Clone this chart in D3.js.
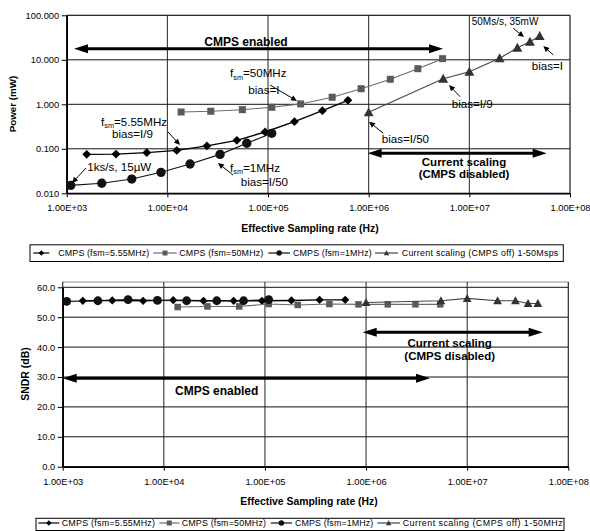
<!DOCTYPE html>
<html><head><meta charset="utf-8">
<script src="https://cdn.jsdelivr.net/npm/d3@7"></script>
<style>
body{margin:0;background:#fff;}
svg{display:block;font-family:"Liberation Sans",Arial,sans-serif;}
</style></head>
<body><svg id="c" width="590" height="531"></svg>
<script>
// ---------- data ----------
const xTickVals = [1e3, 1e4, 1e5, 1e6, 1e7, 1e8];
const xTickLabels = ["1.00E+03","1.00E+04","1.00E+05","1.00E+06","1.00E+07","1.00E+08"];
const pTickVals = [0.01, 0.1, 1, 10, 100];
const pTickLabels = ["0.010","0.100","1.000","10.000","100.000"];
const sTickVals = [0, 10, 20, 30, 40, 50, 60];
const sTickLabels = ["0.0","10.0","20.0","30.0","40.0","50.0","60.0"];

// CMPS fsm=5.55MHz
const x555 = [1580, 3090, 6240, 12400, 24700, 49000, 93500, 183000, 347000, 622000];
const p555 = [0.075, 0.076, 0.082, 0.092, 0.116, 0.155, 0.239, 0.407, 0.718, 1.23];
const s555 = [55.5, 55.6, 55.5, 55.7, 55.5, 55.5, 55.5, 55.6, 55.8, 55.8];
// CMPS fsm=50MHz
const x50 = [13700, 27000, 55600, 109000, 211000, 434000, 842000, 1640000, 3080000, 5420000];
const p50 = [0.671, 0.697, 0.757, 0.857, 1.02, 1.44, 2.24, 3.65, 6.31, 10.6];
const s50 = [53.4, 53.6, 53.6, 54.4, 54.1, 54.4, 54.3, 54.3, 54.3, 54.3];
// CMPS fsm=1MHz
const x1 = [1096, 2230, 4430, 8650, 16800, 33400, 61500, 109000];
const p1 = [0.0151, 0.0168, 0.0209, 0.0296, 0.0455, 0.075, 0.133, 0.223];
const s1 = [55.3, 55.5, 55.9, 55.6, 55.5, 55.5, 55.5, 55.9];
// Current scaling (CMPS off)
const xCS = [1e6, 5.5e6, 1e7, 2e7, 3e7, 4e7, 5e7];
const pCS = [0.66, 3.76, 5.4, 10.8, 18.7, 25.5, 34.3];
const sCS = [54.9, 55.5, 56.3, 55.5, 55.5, 54.6, 54.6];

const legendTop = ["CMPS (fsm=5.55MHz)","CMPS (fsm=50MHz)","CMPS (fsm=1MHz)","Current scaling (CMPS off) 1-50Msps"];
const legendBot = ["CMPS (fsm=5.55MHz)","CMPS (fsm=50MHz)","CMPS (fsm=1MHz)","Current scaling (CMPS off) 1-50MHz"];

// ---------- styles ----------
const seriesStyle = [
  {shape:"diamond", fill:"#000", line:"#000", lw:1.4},
  {shape:"square", fill:"#5a5a5a", line:"#6a6a6a", lw:1.1},
  {shape:"circle", fill:"#111", line:"#111", lw:1.1},
  {shape:"triangle", fill:"#333", line:"#444", lw:1.1}
];

const svg = d3.select("#c");
const FONT = "'Liberation Sans',Arial,sans-serif";

function drawMarker(g, shape, cx, cy, s, fill) {
  if (shape === "circle") {
    g.append("circle").attr("cx", cx).attr("cy", cy).attr("r", s*0.55).attr("fill", fill);
  } else if (shape === "square") {
    g.append("rect").attr("x", cx - s/2).attr("y", cy - s/2).attr("width", s).attr("height", s).attr("fill", fill);
  } else if (shape === "diamond") {
    const h = s*0.55;
    g.append("path").attr("d", `M${cx},${cy-h}L${cx+h},${cy}L${cx},${cy+h}L${cx-h},${cy}Z`).attr("fill", fill);
  } else {
    const h = s*0.55;
    g.append("path").attr("d", `M${cx},${cy-h}L${cx+h},${cy+h*0.8}L${cx-h},${cy+h*0.8}Z`).attr("fill", fill);
  }
}

function arrowHead(g, x, y, ang, len, half, color) {
  const c = Math.cos(ang), s = Math.sin(ang);
  const bx = x - c*len, by = y - s*len;
  g.append("path")
    .attr("d", `M${x},${y}L${bx - s*half},${by + c*half}L${bx + s*half},${by - c*half}Z`)
    .attr("fill", color);
}
function smallArrow(g, x1, y1, x2, y2) {
  const ang = Math.atan2(y2-y1, x2-x1);
  g.append("line").attr("x1", x1).attr("y1", y1)
    .attr("x2", x2 - Math.cos(ang)*4).attr("y2", y2 - Math.sin(ang)*4)
    .attr("stroke", "#000").attr("stroke-width", 1);
  arrowHead(g, x2, y2, ang, 6, 2.8, "#000");
}
function bigArrow(g, x1, x2, y) {
  g.append("line").attr("x1", x1 + 10).attr("x2", x2 - 10).attr("y1", y).attr("y2", y)
    .attr("stroke", "#000").attr("stroke-width", 3);
  arrowHead(g, x1, y, Math.PI, 14, 4.5, "#000");
  arrowHead(g, x2, y, 0, 14, 4.5, "#000");
}
function subLabel(g, x, y, pre, sub, post) {
  const t = g.append("text").attr("x", x).attr("y", y).attr("font-size", 11.6).attr("font-family", FONT);
  t.append("tspan").text(pre);
  t.append("tspan").attr("font-size", 7.3).attr("dy", 2.3).text(sub);
  t.append("tspan").attr("dy", -2.3).text(post);
}
function label(g, x, y, txt, size, weight, anchor) {
  g.append("text").attr("x", x).attr("y", y).attr("font-size", size)
    .attr("font-weight", weight || "normal").attr("text-anchor", anchor || "start")
    .attr("font-family", FONT).text(txt);
}

function drawChart(cfg) {
  const g = svg.append("g");
  const x = d3.scaleLog().domain([1e3, 1e8]).range([cfg.x0, cfg.x1]);
  const y = cfg.y;
  g.append("rect").attr("x", cfg.x0).attr("y", cfg.top).attr("width", cfg.x1 - cfg.x0)
    .attr("height", cfg.y0 - cfg.top).attr("fill", "none").attr("stroke", "#8a8a8a").attr("stroke-width", 1);
  g.selectAll(".hg").data(cfg.yVals).enter().append("line")
    .attr("x1", cfg.x0).attr("x2", cfg.x1).attr("y1", d => y(d)).attr("y2", d => y(d))
    .attr("stroke", "#111").attr("stroke-width", 1);
  g.selectAll(".vg").data(xTickVals).enter().append("line")
    .attr("x1", d => x(d)).attr("x2", d => x(d)).attr("y1", cfg.top).attr("y2", cfg.y0)
    .attr("stroke", "#222").attr("stroke-width", 1);
  const ax = g.append("g").attr("transform", `translate(0,${cfg.y0})`)
    .call(d3.axisBottom(x).tickValues(xTickVals).tickFormat((d,i) => xTickLabels[i]).tickSize(4).tickSizeOuter(0).tickPadding(cfg.xPad));
  const ay = g.append("g").attr("transform", `translate(${cfg.x0},0)`)
    .call(d3.axisLeft(y).tickValues(cfg.yVals).tickFormat((d,i) => cfg.yLabels[i]).tickSize(5).tickSizeOuter(0).tickPadding(2.5));
  [ax, ay].forEach(a => {
    a.select(".domain").attr("stroke", "#000").attr("stroke-width", 1.6);
    a.selectAll(".tick line").attr("stroke", "#000");
    a.selectAll("text").attr("font-size", 9.3).attr("font-family", FONT).attr("fill", "#000");
  });
  label(g, cfg.xTitleX, cfg.xTitleY, "Effective Sampling rate (Hz)", 10.4, "bold", "middle");
  g.append("text").attr("transform", `translate(${cfg.yTitleX},${cfg.yTitleY}) rotate(-90)`)
    .attr("text-anchor", "middle").attr("font-size", cfg.yTitleSize).attr("font-weight", "bold")
    .attr("font-family", FONT).text(cfg.yTitle);
  cfg.series.forEach((s, i) => {
    const st = seriesStyle[i];
    const pts = s.xs.map((xv, j) => [x(xv), y(s.ys[j])]);
    g.append("path").attr("d", d3.line()(pts)).attr("fill", "none")
      .attr("stroke", st.line).attr("stroke-width", st.lw);
    pts.forEach(p => drawMarker(g, st.shape, p[0], p[1], cfg.msize[i], st.fill));
  });
  return {g, x, y};
}

// ---------- top chart ----------
const topChart = drawChart({
  x0: 66.7, x1: 570, top: 15.3, y0: 193.3,
  y: d3.scaleLog().domain([0.01, 100]).range([193.3, 15.3]),
  yVals: pTickVals, yLabels: pTickLabels, xPad: 7.5,
  xTitleX: 310, xTitleY: 231.5,
  yTitle: "Power (mW)", yTitleX: 16, yTitleY: 104, yTitleSize: 9.8,
  msize: [8, 7, 8.5, 9],
  series: [{xs:x555, ys:p555},{xs:x50, ys:p50},{xs:x1, ys:p1},{xs:xCS, ys:pCS}]
});
{
  const g = topChart.g;
  bigArrow(g, 74, 443, 48.7);
  label(g, 246, 46.3, "CMPS enabled", 12, "bold", "middle");
  bigArrow(g, 367.7, 546.7, 153.3);
  label(g, 464, 166, "Current scaling", 11.5, "bold", "middle");
  label(g, 464, 177.8, "(CMPS disabled)", 11.5, "bold", "middle");
  subLabel(g, 230, 77.3, "f", "sm", "=50MHz");
  label(g, 248.3, 94, "bias=I", 11.6);
  smallArrow(g, 270, 85, 297, 101);
  subLabel(g, 101, 125.8, "f", "sm", "=5.55MHz");
  label(g, 112, 137.8, "bias=I/9", 11.6);
  smallArrow(g, 168, 132, 180, 145);
  label(g, 87.3, 170.7, "1ks/s, 15µW", 11.6);
  smallArrow(g, 86, 168, 72, 183);
  subLabel(g, 230, 171.8, "f", "sm", "=1MHz");
  label(g, 240.7, 185.9, "bias=I/50", 11.6);
  smallArrow(g, 233, 175, 218, 163);
  label(g, 471.7, 25, "50Ms/s, 35mW", 10);
  smallArrow(g, 513.3, 28.3, 524, 37);
  label(g, 531.7, 70, "bias=I", 11.6);
  smallArrow(g, 553.3, 55, 543.3, 46);
  label(g, 451.7, 108.3, "bias=I/9", 11.6);
  smallArrow(g, 460, 96.7, 449, 85);
  label(g, 381.7, 143.3, "bias=I/50", 11.6);
  smallArrow(g, 383.3, 133.3, 369, 121.7);
}

// ---------- bottom chart ----------
const botChart = drawChart({
  x0: 62.7, x1: 568.3, top: 282, y0: 466.7,
  y: d3.scaleLinear().domain([0, 60]).range([466.7, 287.3]),
  yVals: sTickVals, yLabels: sTickLabels, xPad: 7.5,
  xTitleX: 309, xTitleY: 504.5,
  yTitle: "SNDR (dB)", yTitleX: 29, yTitleY: 374, yTitleSize: 10.5,
  msize: [7.5, 6.5, 8, 8],
  series: [{xs:x555, ys:s555},{xs:x50, ys:s50},{xs:x1, ys:s1},{xs:xCS, ys:sCS}]
});
{
  const g = botChart.g;
  bigArrow(g, 62.7, 430, 378.3);
  label(g, 216.7, 395, "CMPS enabled", 12, "bold", "middle");
  bigArrow(g, 362.7, 542.7, 332.3);
  label(g, 449.7, 347, "Current scaling", 11.5, "bold", "middle");
  label(g, 449.7, 359.7, "(CMPS disabled)", 11.5, "bold", "middle");
}

// ---------- legends ----------
function legend(names, bx0, bx1, by0, by1, baseline, items) {
  const g = svg.append("g");
  g.append("rect").attr("x", bx0).attr("y", by0).attr("width", bx1 - bx0).attr("height", by1 - by0)
    .attr("fill", "#fff").attr("stroke", "#000").attr("stroke-width", 1);
  names.forEach((n, i) => {
    const it = items[i], st = seriesStyle[i];
    const ly = baseline - 3;
    g.append("line").attr("x1", it[0]).attr("x2", it[1]).attr("y1", ly).attr("y2", ly)
      .attr("stroke", st.line).attr("stroke-width", 1.2);
    drawMarker(g, st.shape, (it[0] + it[1]) / 2, ly, 5, st.fill);
    g.append("text").attr("x", it[2]).attr("y", baseline).attr("font-size", 8.9)
      .attr("font-family", FONT).attr("textLength", it[3] - it[2]).attr("lengthAdjust", "spacing").text(n);
  });
}
legend(legendTop, 30, 563.3, 244.8, 261.5, 256,
  [[33.3, 49.3, 58.3, 149.3],[153.3, 176.7, 179.3, 263.3],[268.3, 290, 293, 371.7],[375, 398, 401.7, 558.3]]);
legend(legendBot, 36, 564, 518.3, 530.5, 526,
  [[38.3, 59.3, 61.7, 155],[159.3, 179.3, 181.7, 266],[270.7, 292, 295, 373.3],[377.3, 400, 402.7, 562.7]]);
</script>
</body></html>
